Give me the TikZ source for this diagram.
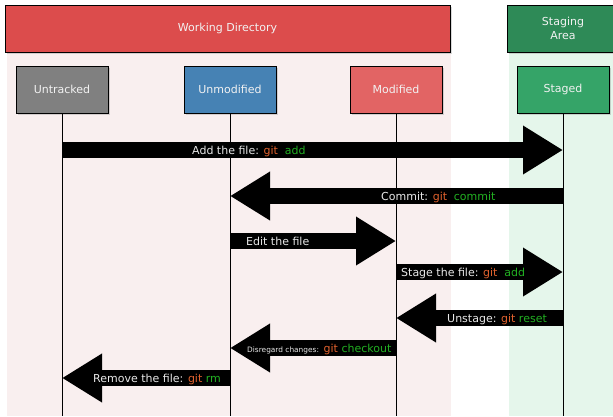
\documentclass[tikz,border=0pt]{standalone}
\usepackage{fontspec}
\setmainfont{DejaVu Sans}
\usetikzlibrary{arrows.meta,shadows}
\definecolor{wdred}{HTML}{DC4C4C}
\definecolor{sadark}{HTML}{2E8A57}
\definecolor{untrk}{HTML}{808080}
\definecolor{unmod}{HTML}{4682B4}
\definecolor{modif}{HTML}{E26464}
\definecolor{stgd}{HTML}{35A468}
\definecolor{pinkbg}{HTML}{F9EFEF}
\definecolor{greenbg}{HTML}{E5F6EB}
\definecolor{boxtext}{HTML}{F2F2F2}
\definecolor{lbltext}{HTML}{E8E8E8}
\definecolor{gitorange}{HTML}{E2622E}
\definecolor{gitgreen}{HTML}{22B022}
\newcommand\GitWide[2]{\textcolor{gitorange}{#1}\hspace{6.8pt}\textcolor{gitgreen}{#2}}
\newcommand\GitNarrow[2]{\textcolor{gitorange}{#1} \textcolor{gitgreen}{#2}}
\begin{document}
\begin{tikzpicture}[x=1pt,y=-1pt,
  font=\fontsize{11pt}{14pt}\selectfont,
  box/.style={draw=black, line width=1pt, text=boxtext, minimum width=92pt,
    minimum height=47pt, inner sep=0pt, align=center,
    drop shadow={shadow xshift=1.5pt, shadow yshift=-1.5pt, opacity=0.3}},
  life/.style={draw=black, line width=1pt},
  blk/.style={line width=16pt, -{Triangle[length=40pt,width=46pt]}},
  lbl/.style={text=lbltext, inner sep=0pt, anchor=base west}]
\useasboundingbox (0,0) rectangle (613,416);
% backgrounds
\fill[pinkbg] (7,52) rectangle (451,416);
\fill[greenbg] (509,52) rectangle (620,416);
% headers
\node[box, fill=wdred, minimum width=445pt] (wd) at (227.5,28.5) {Working Directory};
\node[box, fill=sadark, minimum width=112pt] (sa) at (563,28.5) {Staging\\Area};
% state boxes
\node[box, fill=untrk] (ut) at (62,89.5) {Untracked};
\node[box, fill=unmod] (um) at (230,89.5) {Unmodified};
\node[box, fill=modif] (md) at (396,89.5) {Modified};
\node[box, fill=stgd] (st) at (563,89.5) {Staged};
% lifelines
\coordinate (utb) at (ut.south |- 0,416);
\coordinate (umb) at (um.south |- 0,416);
\coordinate (mdb) at (md.south |- 0,416);
\coordinate (stb) at (st.south |- 0,416);
\draw[life] (ut.south) -- (utb);
\draw[life] (um.south) -- (umb);
\draw[life] (md.south) -- (mdb);
\draw[life] (st.south) -- (stb);
% block arrows
\draw[blk] (ut |- 0,150) -- (st |- 0,150);
\draw[blk] (st |- 0,196) -- (um |- 0,196);
\draw[blk] (um |- 0,241) -- (md |- 0,241);
\draw[blk] (md |- 0,272) -- (st |- 0,272);
\draw[blk] (st |- 0,318) -- (md |- 0,318);
\draw[blk] (md |- 0,348) -- (um |- 0,348);
\draw[blk] (um |- 0,378) -- (ut |- 0,378);
% labels
\node[lbl] (l1) at (192,154) {Add the file: \GitWide{git}{add}};
\node[lbl] (l2) at (381,200) {Commit: \GitWide{git}{commit}};
\node[lbl] (l3) at (246,245) {Edit the file};
\node[lbl] (l4) at (401,276) {Stage the file: \GitWide{git}{add}};
\node[lbl] (l5) at (447,322) {Unstage: \GitNarrow{git}{reset}};
\node[lbl] (l6) at (247,352) {{\fontsize{7.4pt}{9pt}\selectfont Disregard changes:} \GitNarrow{git}{checkout}};
\node[lbl] (l7) at (93,382) {Remove the file: \GitNarrow{git}{rm}};
\end{tikzpicture}
\end{document}
